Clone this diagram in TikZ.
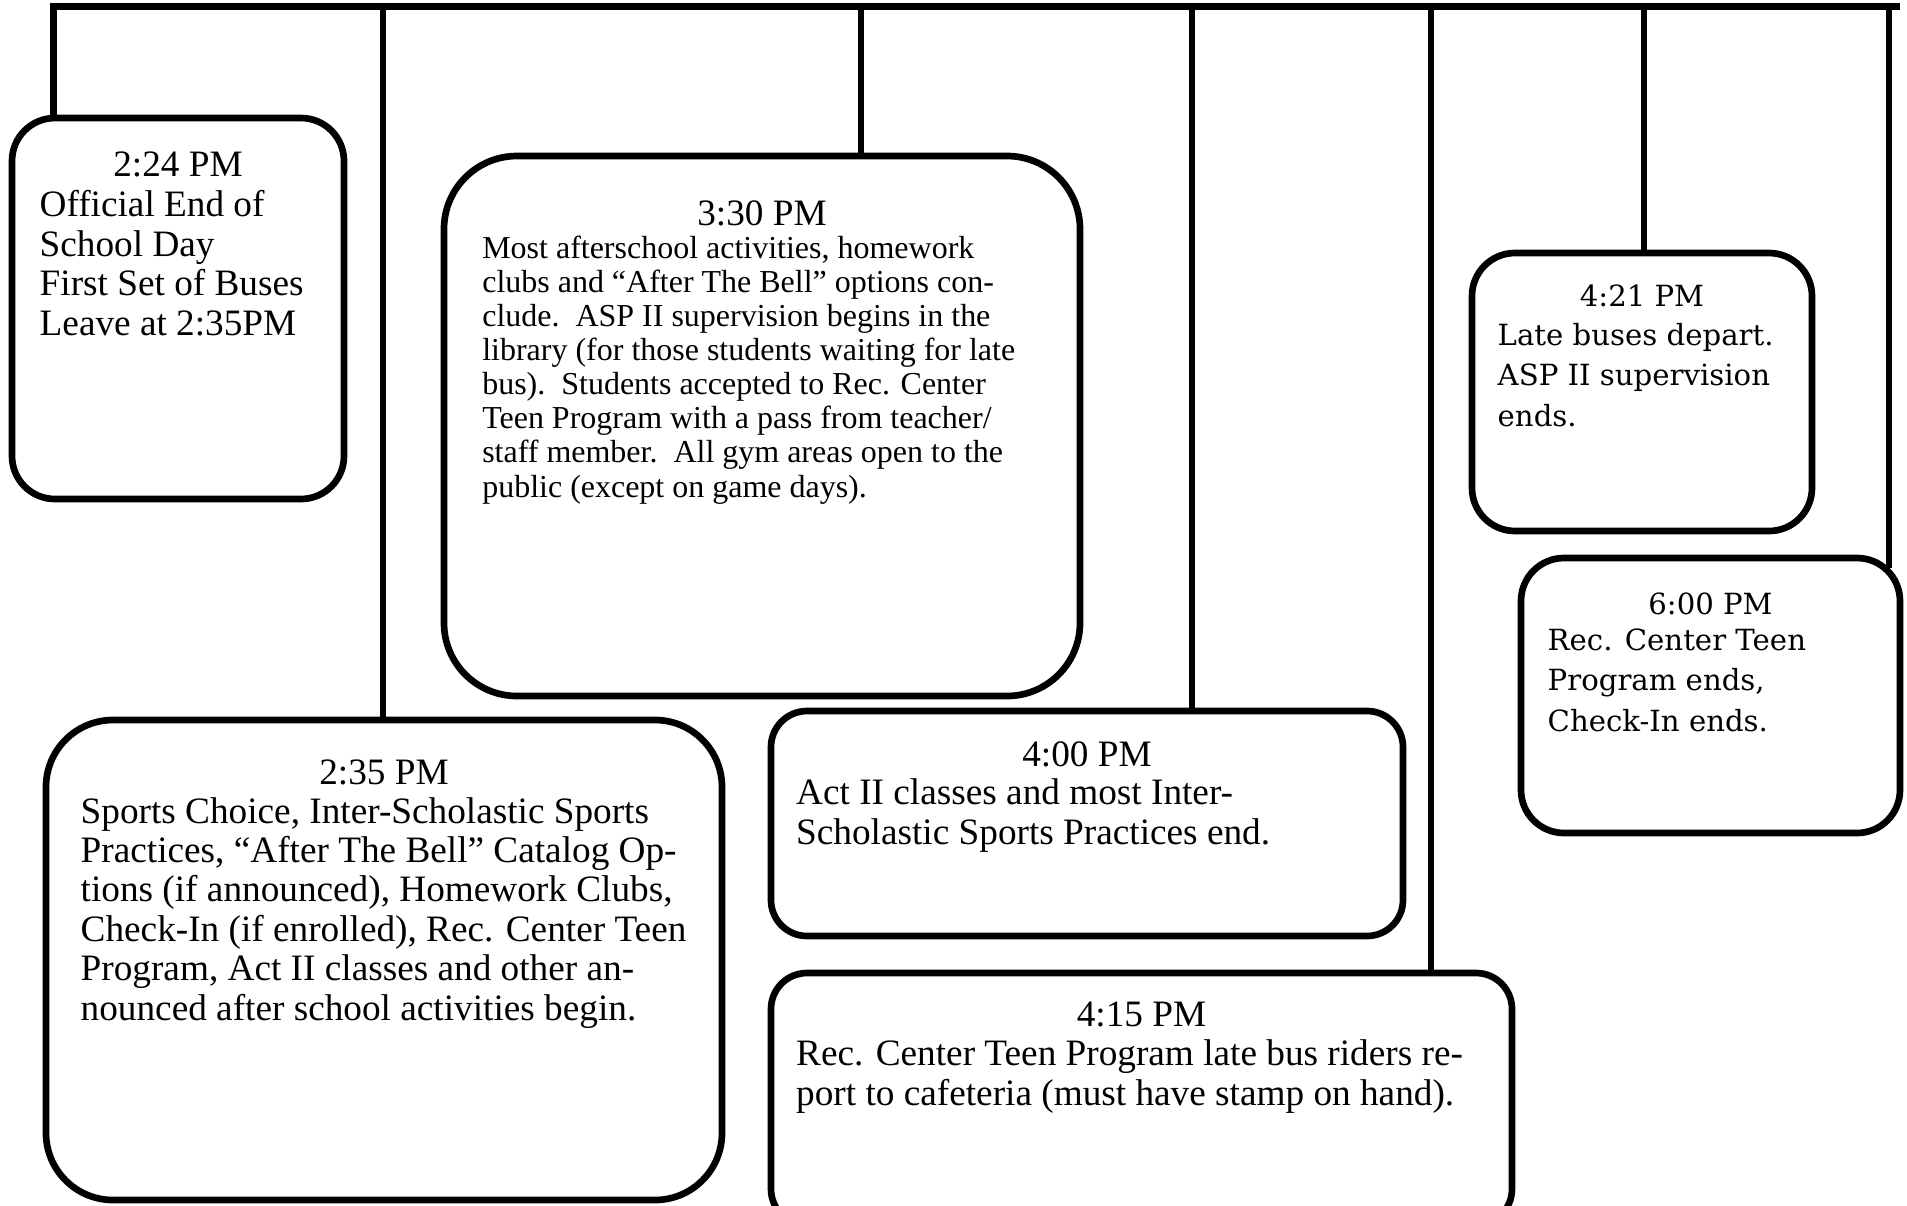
\documentclass[tikz,border=0pt]{standalone}
\usepackage{fontspec}
\setmainfont{Liberation Serif}
\newfontfamily\wideserif{DejaVu Serif}
\usetikzlibrary{positioning,calc}

\begin{document}
\begin{tikzpicture}[
    slot/.style={rectangle, draw, line width=1.9pt, rounded corners=#1, inner sep=0pt},
    slot/.default=0.4cm,
    rail/.style={line width=1.9pt},
    head/.style={anchor=base, inner sep=0pt, font=\fontsize{10.6}{11.2}\selectfont},
    body/.style={anchor=base west, align=left, inner sep=0pt, font=\fontsize{10.6}{11.2}\selectfont},
    smallbody/.style={body, font=\fontsize{9.1}{9.7}\selectfont},
    widehead/.style={head, font=\wideserif\fontsize{8.3}{11.4}\selectfont},
    widebody/.style={body, font=\wideserif\fontsize{8.3}{11.4}\selectfont}
]
\useasboundingbox (0,0) rectangle (19.07,-12.06);
\clip (0,0) rectangle (19.07,-12.06);

% Boxes
\node[slot=0.43cm, minimum width=3.32cm, minimum height=3.81cm] (official) at (1.78,-3.085) {};
\node[slot=0.73cm, minimum width=6.36cm, minimum height=5.40cm] (conclude) at (7.62,-4.26) {};
\node[slot=0.67cm, minimum width=6.76cm, minimum height=4.80cm] (sports) at (3.84,-9.60) {};
\node[slot=0.36cm, minimum width=6.32cm, minimum height=2.25cm] (actend) at (10.87,-8.235) {};
\node[slot=0.36cm, minimum width=7.41cm, minimum height=2.52cm] (cafe) at (11.415,-10.99) {};
\node[slot=0.43cm, minimum width=3.40cm, minimum height=2.78cm] (latebus) at (16.42,-3.92) {};
\node[slot=0.43cm, minimum width=3.79cm, minimum height=2.75cm] (teenend) at (17.105,-6.955) {};

% Times
\node[head] (officialhd) at (1.78,-1.76) {2:24 PM};
\node[head] (concludehd) at (7.62,-2.25) {3:30 PM};
\node[head] (sportshd) at (3.84,-7.845) {2:35 PM};
\node[head] (actendhd) at (10.87,-7.66) {4:00 PM};
\node[head] (cafehd) at (11.415,-10.265) {4:15 PM};
\node[widehead] (latebushd) at (16.42,-3.065) {4:21 PM};
\node[widehead] (teenendhd) at (17.105,-6.14) {6:00 PM};

% Texts (placed by the baseline of their last line)
\node[body] (officialtx) at (0.39,-3.35) {Official End of\\School Day\\First Set of Buses\\Leave at 2:35PM};
\node[smallbody] (concludetx) at (4.816,-4.97) {Most afterschool activities, homework\\clubs and “After The Bell” options con-\\clude.\ \ ASP II supervision begins in the\\library (for those students waiting for late\\bus).\ \ Students accepted to Rec. Center\\Teen Program with a pass from teacher/\\staff member.\ \ All gym areas open to the\\public (except on game days).};
\node[body] (sportstx) at (0.80,-10.2) {Sports Choice, Inter-Scholastic Sports\\Practices, “After The Bell” Catalog Op-\\tions (if announced), Homework Clubs,\\Check-In (if enrolled), Rec. Center Teen\\Program, Act II classes and other an-\\nounced after school activities begin.};
\node[body] (actendtx) at (7.955,-8.44) {Act II classes and most Inter-\\Scholastic Sports Practices end.};
\node[body] (cafetx) at (7.955,-11.05) {Rec. Center Teen Program late bus riders re-\\port to cafeteria (must have stamp on hand).};
\node[widebody] (latebustx) at (14.97,-4.26) {Late buses depart.\\ASP II supervision\\ends.};
\node[widebody] (teenendtx) at (15.47,-7.31) {Rec. Center Teen\\Program ends,\\Check-In ends.};

% Rail
\coordinate (r1) at (0.535,-0.067);
\coordinate (r2) at (3.83,-0.067);
\coordinate (r3) at (8.61,-0.067);
\coordinate (r4) at (11.92,-0.067);
\coordinate (r5) at (14.31,-0.067);
\coordinate (r6) at (16.44,-0.067);
\coordinate (r7) at (18.89,-0.067);
\coordinate (railend) at (19.00,-0.067);

\draw[rail] (railend) -- (r1) -- (r1 |- official.north);
\draw[rail] (r2) -- (r2 |- sports.north);
\draw[rail] (r3) -- (r3 |- conclude.north);
\draw[rail] (r4) -- (r4 |- actend.north);
\draw[rail] (r5) -- (r5 |- cafe.north);
\draw[rail] (r6) -- (r6 |- latebus.north);
\draw[rail] (r7) -- ($(r7 |- teenend.north)+(0,-0.13)$);

\end{tikzpicture}
\end{document}
